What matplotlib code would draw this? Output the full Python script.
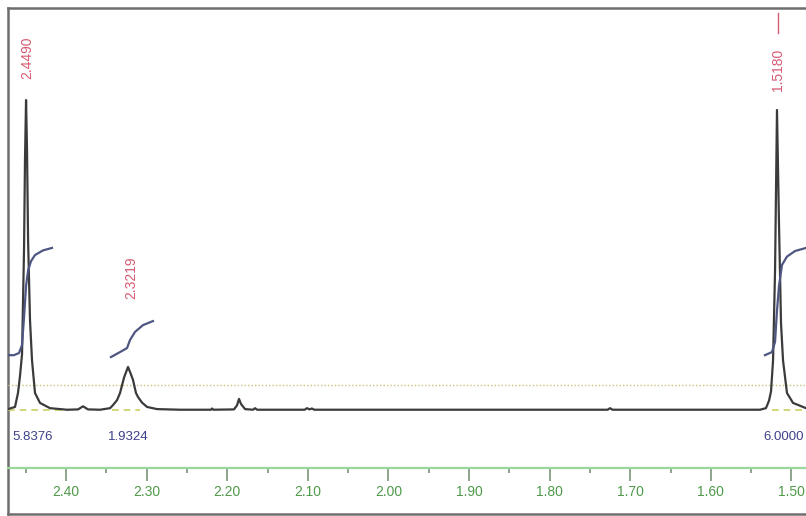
import matplotlib.pyplot as plt
from matplotlib.ticker import MultipleLocator, FormatStrFormatter

# spectrum trace (ppm, intensity; baseline = 0, tallest peak = 100)
spec_ppm = [2.4720, 2.4633, 2.4596, 2.4571, 2.4546, 2.4521, 2.4509, 2.4496, 2.4484, 2.4471,
            2.4447, 2.4422, 2.4385, 2.4323, 2.4199, 2.3988, 2.3851, 2.3789, 2.3727, 2.3578,
            2.3454, 2.3417, 2.3367, 2.3330, 2.3280, 2.3231, 2.3194, 2.3169, 2.3132, 2.3107,
            2.3057, 2.2995, 2.2871, 2.2586, 2.2200, 2.2189, 2.2170, 2.1916, 2.1879, 2.1854,
            2.1830, 2.1779, 2.1680, 2.1655, 2.1630, 2.1040, 2.1010, 2.0980, 2.0950, 2.0920,
            1.7280, 1.7250, 1.7220, 1.5390, 1.5316, 1.5278, 1.5253, 1.5228, 1.5203, 1.5179,
            1.5154, 1.5129, 1.5104, 1.5055, 1.4980, 1.4819]
spec_int = [0.3, 1.0, 5.5, 11, 18, 52, 81, 100, 84, 55,
            29, 16, 5.5, 2.3, 0.6, 0.1, 0.2, 1.2, 0.2, 0.1,
            0.6, 1.6, 3.2, 5.5, 10.5, 13.9, 11.5, 9.7, 5.5, 4.2,
            2.4, 1.0, 0.3, 0.1, 0.1, 0.5, 0.1, 0.2, 1.5, 3.6,
            2.0, 0.3, 0.1, 0.6, 0.1, 0.1, 0.6, 0.2, 0.5, 0.1,
            0.1, 0.6, 0.1, 0.1, 0.6, 3.0, 6.0, 16, 45, 96.8,
            60, 28, 16, 5.5, 2.3, 0.6]

# integral curves
int1_ppm = [2.4720, 2.4646, 2.4583, 2.4546, 2.4521, 2.4496, 2.4471, 2.4435, 2.4385, 2.4286, 2.4174]
int1_val = [17.7, 17.7, 18.4, 21, 30, 40, 45, 48, 50, 51.5, 52.3]
int2_ppm = [2.3442, 2.3330, 2.3243, 2.3206, 2.3144, 2.3045, 2.2921]
int2_val = [17.1, 18.7, 20, 22.6, 25.2, 27.4, 28.7]
int3_ppm = [1.5328, 1.5241, 1.5203, 1.5179, 1.5154, 1.5117, 1.5055, 1.4955, 1.4819]
int3_val = [17.7, 18.7, 22, 32, 40, 46.8, 49.5, 51.3, 52.3]

integral_labels = ["5.8376", "1.9324", "6.0000"]
integral_label_ppm = [2.4409, 2.3231, 1.5092]

peak_labels = ["2.4490", "2.3219", "1.5180"]
peak_label_ppm = [2.4484, 2.3194, 1.5166]
peak_label_y = [113.5, 42.6, 109.7]

# baseline segments under integrated regions
base_segments = [(2.4720, 2.3950), (2.3430, 2.3080), (1.5240, 1.4819)]

W, H = 806, 516
fig = plt.figure(figsize=(W / 100, H / 100), dpi=100)

# outer frame
frame = fig.add_axes([8 / W, 2 / H, 1.02 - 8 / W, (H - 10) / H])
frame.set_xticks([])
frame.set_yticks([])
for s in ["top", "left", "bottom"]:
    frame.spines[s].set_color("#6e6e6e")
    frame.spines[s].set_linewidth(1.8)
frame.spines["right"].set_visible(False)
frame.patch.set_alpha(0)

ax = fig.add_axes([8 / W, (H - 468) / H, 1 - 8 / W, 460 / H])
ax.patch.set_alpha(0)
ax.set_xlim(2.4720, 1.4819)
ax.set_ylim(-18.7, 129.7)

ax.axhline(8.1, color="#c9c27a", lw=1.0, ls=(0, (1, 1.5)))
for a, b in base_segments:
    ax.plot([a, b], [0, 0], color="#c8d060", lw=1.2, ls=(0, (4, 3)))

ax.plot(spec_ppm, spec_int, color="#3b3b3b", lw=1.6)
for xs, ys in [(int1_ppm, int1_val), (int2_ppm, int2_val), (int3_ppm, int3_val)]:
    ax.plot(xs, ys, color="#4f5682", lw=1.6)

text_font = ["Liberation Sans", "DejaVu Sans"]
for lab, x in zip(integral_labels, integral_label_ppm):
    ax.text(x, -8.7, lab, color="#3d4189", fontsize=9.5, family=text_font,
            ha="center", va="center")
for lab, x, y in zip(peak_labels, peak_label_ppm, peak_label_y):
    ax.text(x, y, lab, color="#d65a72", fontsize=10, family=text_font,
            rotation=90, ha="center", va="center")
ax.plot([1.5166, 1.5166], [121.5, 128], color="#d65a72", lw=1.0)

for s in ["top", "left", "right"]:
    ax.spines[s].set_visible(False)
ax.spines["bottom"].set_color("#9ad79a")
ax.spines["bottom"].set_linewidth(1.6)
ax.set_yticks([])
ax.xaxis.set_major_locator(MultipleLocator(0.1))
ax.xaxis.set_minor_locator(MultipleLocator(0.05))
ax.xaxis.set_major_formatter(FormatStrFormatter("%.2f"))
ax.tick_params(axis="x", which="major", direction="out", length=9.5, width=1.1,
               color="#6f8c6f", labelcolor="#4f9a4a", labelsize=10, pad=3)
ax.tick_params(axis="x", which="minor", direction="out", length=3.6, width=1.1,
               color="#6f8c6f")
for t in ax.get_xticklabels():
    t.set_family(text_font)

fig.savefig("out.png", dpi=100)
